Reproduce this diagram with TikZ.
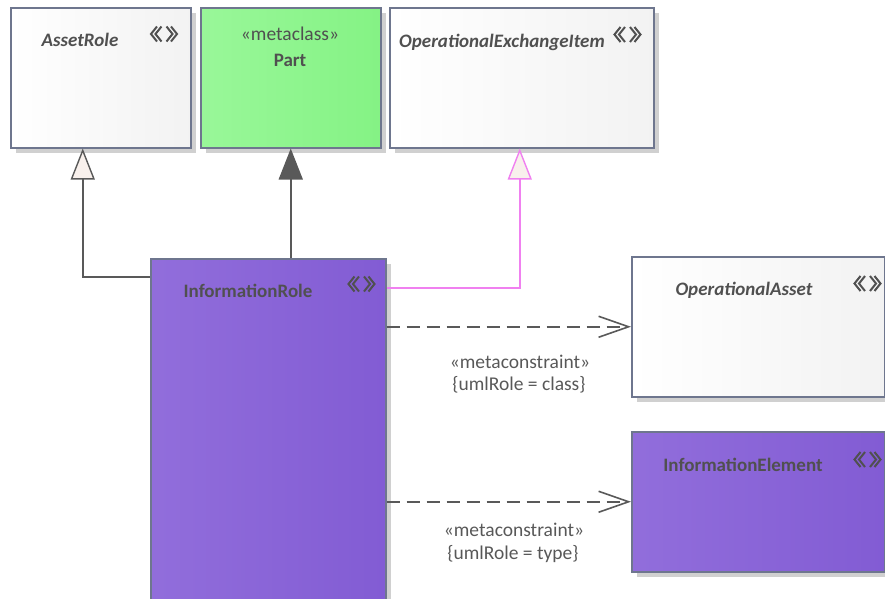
\documentclass[tikz,border=0pt]{standalone}
\usepackage{fontspec}
\setmainfont{Carlito}
\usetikzlibrary{arrows.meta,shadows}
\definecolor{bordc}{RGB}{110,118,142}
\definecolor{txtc}{RGB}{80,80,80}
\definecolor{lblc}{RGB}{88,88,88}
\definecolor{linec}{RGB}{89,89,89}
\definecolor{pinkc}{RGB}{240,128,240}
\definecolor{trifill}{RGB}{248,240,236}
\definecolor{shadc}{RGB}{208,208,208}
\pgfdeclarehorizontalshading{graysh}{100bp}{rgb(0bp)=(0.90,0.90,0.90); rgb(25bp)=(1,1,1); rgb(75bp)=(0.95,0.95,0.95); rgb(100bp)=(0.93,0.93,0.93)}
\pgfdeclarehorizontalshading{greensh}{100bp}{rgb(0bp)=(0.42,0.91,0.42); rgb(25bp)=(0.60,0.97,0.60); rgb(75bp)=(0.52,0.95,0.52); rgb(100bp)=(0.46,0.94,0.46)}
\pgfdeclarehorizontalshading{purplesh}{100bp}{rgb(0bp)=(0.47,0.31,0.81); rgb(25bp)=(0.57,0.43,0.86); rgb(75bp)=(0.51,0.36,0.83); rgb(100bp)=(0.47,0.32,0.81)}
\tikzset{
  umlbox/.style={draw=bordc, line width=1.5pt, anchor=north west, inner sep=0pt,
    drop shadow={shadow xshift=5pt, shadow yshift=-5pt, fill=shadc, opacity=1}},
  ttl/.style={text=txtc, font=\fontsize{19}{22}\selectfont\bfseries, inner sep=0pt, anchor=base},
  ittl/.style={ttl, font=\fontsize{19}{22}\selectfont\bfseries\itshape},
  stereo/.style={text=txtc, font=\fontsize{19.5}{22}\selectfont, inner sep=0pt, anchor=base},
  lbl/.style={text=lblc, font=\fontsize{19.5}{22}\selectfont, inner sep=0pt, anchor=base},
  iconstroke/.style={draw=txtc, line width=2pt},
  stereoicon/.pic={
    \draw[iconstroke] (-7,-7.5) -- (-13,0) -- (-7,7.5);
    \draw[iconstroke] (-2.5,-7.5) -- (-8.5,0) -- (-2.5,7.5);
    \draw[iconstroke] (2.5,-7.5) -- (8.5,0) -- (2.5,7.5);
    \draw[iconstroke] (7,-7.5) -- (13,0) -- (7,7.5);
  },
  conn/.style={draw=linec, line width=1.6pt},
  gen/.style={conn, -{Triangle[length=31pt, width=24pt, fill=trifill, line width=1.4pt]}},
  genfill/.style={conn, -{Triangle[length=31pt, width=24pt, fill=linec]}},
  realz/.style={draw=pinkc, line width=1.6pt, -{Triangle[length=31pt, width=24pt, fill=trifill, line width=1.4pt]}},
  dep/.style={conn, dash pattern=on 13pt off 7pt, -{Straight Barb[length=30pt, width=21pt, line width=1.6pt]}}
}
\begin{document}
\begin{tikzpicture}[x=1pt,y=-1pt]
\useasboundingbox (0,0) rectangle (885,598);
\clip (0,0) rectangle (885,598);
% boxes
\node[umlbox, shading=graysh, minimum width=180pt, minimum height=140pt] (assetrole) at (10,7) {};
\node[umlbox, shading=greensh, minimum width=180pt, minimum height=140pt] (part) at (200,7) {};
\node[umlbox, shading=graysh, minimum width=264pt, minimum height=140pt] (oei) at (389,7) {};
\node[umlbox, shading=purplesh, minimum width=235pt, minimum height=360pt] (irole) at (150,258) {};
\node[umlbox, shading=graysh, minimum width=253pt, minimum height=140pt] (oasset) at (631,256) {};
\node[umlbox, shading=purplesh, minimum width=253pt, minimum height=140pt] (ielem) at (631,431) {};
% texts
\node[ittl] (t-assetrole) at (80,46) {AssetRole};
\pic (i-assetrole) at (164,34) {stereoicon};
\node[stereo] (s-part) at (290,40) {«metaclass»};
\node[ttl] (t-part) at (290,66) {Part};
\node[ittl] (t-oei) at (502,47) {OperationalExchangeItem};
\pic (i-oei) at (627.5,34.5) {stereoicon};
\node[ttl] (t-irole) at (248,297) {InformationRole};
\pic (i-irole) at (361.5,284) {stereoicon};
\node[ittl] (t-oasset) at (744,295) {OperationalAsset};
\pic (i-oasset) at (867.5,283.5) {stereoicon};
\node[ttl] (t-ielem) at (743,471) {InformationElement};
\pic (i-ielem) at (867.5,459.5) {stereoicon};
% connectors
\draw[gen] ([yshift=-19pt]irole.north west) -| ([xshift=-18pt]assetrole.south);
\draw[genfill] (part.south |- irole.north) -- (part.south);
\draw[realz] ([yshift=-30pt]irole.north east) -| ([xshift=-2pt]oei.south);
\draw[dep] (oasset.west -| irole.east) -- (oasset.west);
\draw[dep] (ielem.west -| irole.east) -- (ielem.west);
% labels
\node[lbl] (l1a) at (520,368) {«metaconstraint»};
\node[lbl] (l1b) at (519,390) {\{umlRole = class\}};
\node[lbl] (l2a) at (514,536) {«metaconstraint»};
\node[lbl] (l2b) at (513,559) {\{umlRole = type\}};
\end{tikzpicture}
\end{document}
